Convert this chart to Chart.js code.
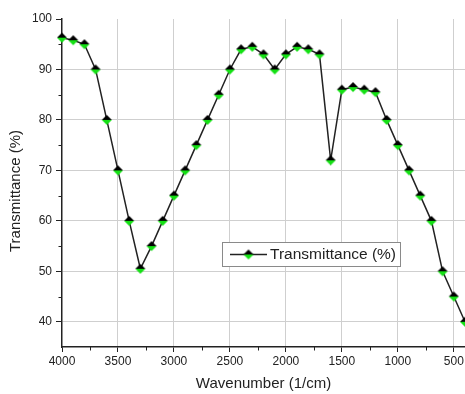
<!DOCTYPE html>
<html>
<head>
<meta charset="utf-8">
<script src="https://cdn.jsdelivr.net/npm/chart.js@4/dist/chart.umd.min.js"></script>
<style>
html,body{margin:0;padding:0;background:#ffffff;}
#wrap{width:465px;height:394px;position:relative;}
</style>
</head>
<body>
<div id="wrap"><canvas id="c" width="465" height="394"></canvas></div>
<script>
// ---- data ----
const wavenumbers = [4000,3900,3800,3700,3600,3500,3400,3300,3200,3100,3000,2900,2800,2700,2600,2500,2400,2300,2200,2100,2000,1900,1800,1700,1600,1500,1400,1300,1200,1100,1000,900,800,700,600,500,400];
const transmittance = [96.3,95.8,95,90,80,70,60,50.5,55,60,65,70,75,80,85,90,94,94.5,93,90,93,94.5,94,93,72,86,86.5,86,85.5,80,75,70,65,60,50,45,40];
const xMajorTicks = [4000,3500,3000,2500,2000,1500,1000,500];
const xMinorTicks = [3750,3250,2750,2250,1750,1250,750];
const yMajorTicks = [40,50,60,70,80,90,100];
const yMinorTicks = [45,55,65,75,85,95];
const seriesLabel = 'Transmittance (%)';
const xTitle = 'Wavenumber (1/cm)';
const yTitle = 'Transmittance (%)';

const FONT = "'Liberation Sans', Arial, sans-serif";
const INK = '#222222';
const GREEN = '#14e014';

// two-tone diamond marker (top black, bottom green)
function makeMarker(r) {
  const s = Math.ceil(r * 2 + 2);
  const cv = document.createElement('canvas');
  cv.width = s; cv.height = s;
  const g = cv.getContext('2d');
  const c = s / 2;
  g.fillStyle = '#000000';
  g.beginPath(); g.moveTo(c - r, c); g.lineTo(c, c - r); g.lineTo(c + r, c); g.closePath(); g.fill();
  g.fillStyle = GREEN;
  g.beginPath(); g.moveTo(c - r, c); g.lineTo(c + r, c); g.lineTo(c, c + r); g.closePath(); g.fill();
  return cv;
}
const marker = makeMarker(5);

const points = wavenumbers.map((w, i) => ({x: w, y: transmittance[i]}));

const extrasPlugin = {
  id: 'extras',
  afterDraw(chart) {
    const ctx = chart.ctx;
    const xs = chart.scales.x, ys = chart.scales.y;
    const ca = chart.chartArea;
    ctx.save();
    // minor ticks
    ctx.strokeStyle = INK; ctx.lineWidth = 1;
    xMinorTicks.forEach(v => {
      const px = Math.round(xs.getPixelForValue(v)) + 0.5;
      ctx.beginPath(); ctx.moveTo(px, ca.bottom); ctx.lineTo(px, ca.bottom + 3.5); ctx.stroke();
    });
    yMinorTicks.forEach(v => {
      const py = Math.round(ys.getPixelForValue(v)) + 0.5;
      ctx.beginPath(); ctx.moveTo(ca.left, py); ctx.lineTo(ca.left - 3.5, py); ctx.stroke();
    });
    // y axis title
    ctx.fillStyle = INK;
    ctx.font = '15px ' + FONT;
    ctx.textAlign = 'center'; ctx.textBaseline = 'middle';
    ctx.translate(15.5, (ca.top + ca.bottom) / 2 + 8);
    ctx.rotate(-Math.PI / 2);
    ctx.fillText(yTitle, 0, 0);
    ctx.restore();

    // legend box inside plot
    ctx.save();
    const lx = 222.5, ly = 242.5, lw = 178, lh = 24;
    ctx.fillStyle = '#ffffff';
    ctx.fillRect(lx, ly, lw, lh);
    ctx.strokeStyle = '#8a8a8a'; ctx.lineWidth = 1;
    ctx.strokeRect(lx, ly, lw, lh);
    const cy = ly + lh / 2;
    ctx.strokeStyle = INK; ctx.lineWidth = 1.5;
    ctx.beginPath(); ctx.moveTo(230, cy); ctx.lineTo(267, cy); ctx.stroke();
    ctx.drawImage(marker, 248.5 - marker.width / 2, cy - marker.height / 2);
    ctx.fillStyle = INK;
    ctx.font = '15.5px ' + FONT;
    ctx.textAlign = 'left'; ctx.textBaseline = 'middle';
    ctx.fillText(chart.data.datasets[0].label, 270, cy + 0.5);
    ctx.restore();
  }
};

new Chart(document.getElementById('c'), {
  type: 'line',
  data: {
    datasets: [{
      label: seriesLabel,
      data: points,
      borderColor: INK,
      borderWidth: 1.5,
      pointStyle: marker,
      pointRadius: 5,
      pointHoverRadius: 5,
      tension: 0,
      clip: false
    }]
  },
  options: {
    responsive: false,
    devicePixelRatio: 1,
    animation: false,
    events: [],
    layout: { autoPadding: false, padding: { top: 19, right: 0, bottom: 0, left: 0 } },
    plugins: { legend: { display: false }, tooltip: { enabled: false } },
    scales: {
      x: {
        type: 'linear',
        reverse: true,
        min: 400,
        max: 4000,
        afterBuildTicks: s => { s.ticks = xMajorTicks.map(v => ({value: v})); },
        afterFit: s => { s.height = 47; s.paddingLeft = 0; s.paddingRight = 0; },
        ticks: { color: INK, font: { size: 12, family: FONT }, padding: 2, maxRotation: 0, autoSkip: false, callback: v => String(v) },
        grid: {
          color: c => (c.tick && c.tick.value === 4000) ? 'rgba(0,0,0,0)' : '#cfcfcf',
          lineWidth: 1,
          tickColor: INK,
          tickLength: 5,
          drawTicks: true
        },
        border: { display: true, color: INK, width: 1.5 },
        title: { display: true, text: xTitle, color: INK, font: { size: 15, family: FONT }, padding: { top: 0, bottom: 1 } }
      },
      y: {
        type: 'linear',
        min: 35,
        max: 100,
        afterBuildTicks: s => { s.ticks = yMajorTicks.map(v => ({value: v})); },
        afterFit: s => { s.width = 62; },
        ticks: { color: INK, font: { size: 12, family: FONT }, padding: 4 },
        grid: {
          color: c => (c.tick && c.tick.value === 100) ? 'rgba(0,0,0,0)' : '#cfcfcf',
          lineWidth: 1,
          tickColor: INK,
          tickLength: 6,
          drawTicks: true
        },
        border: { display: true, color: INK, width: 1.5 }
      }
    }
  },
  plugins: [extrasPlugin]
});
</script>
</body>
</html>
